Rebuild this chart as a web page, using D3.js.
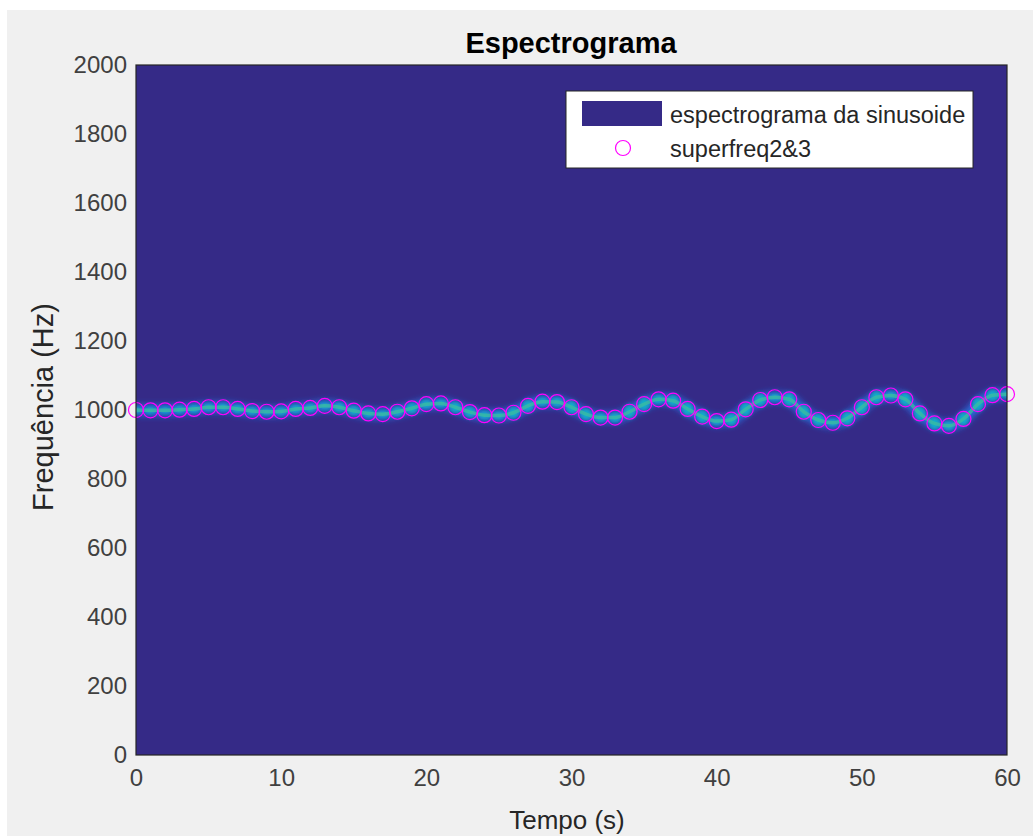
<!DOCTYPE html>
<html>
<head>
<meta charset="utf-8">
<script src="https://cdn.jsdelivr.net/npm/d3@7"></script>
<style>
html,body{margin:0;padding:0;background:#fff;}
svg{display:block;font-family:"Liberation Sans",Arial,sans-serif;}
</style>
</head>
<body>
<svg id="chart" width="1033" height="836"></svg>
<script>
// ---- data ----
const timeSeconds = [0,1,2,3,4,5,6,7,8,9,10,11,12,13,14,15,16,17,18,19,20,21,22,23,24,25,26,27,28,29,30,31,32,33,34,35,36,37,38,39,40,41,42,43,44,45,46,47,48,49,50,51,52,53,54,55,56,57,58,59,60];
const peakFreqHz = [1000,999,999,1001,1003,1008,1008,1003,997,995,996,1003,1006,1012,1008,998,990,988,995,1005,1017,1019,1008,994,985,984,992,1012,1024,1023,1008,988,978,978,995,1017,1031,1027,1003,981,968,972,1002,1029,1037,1031,995,971,963,976,1008,1037,1042,1031,990,961,954,974,1017,1043,1046];
const xTicks = [0,10,20,30,40,50,60];
const yTicks = [0,200,400,600,800,1000,1200,1400,1600,1800,2000];
const titleText = "Espectrograma";
const xLabel = "Tempo (s)";
const yLabel = "Frequência (Hz)";
const legendLabels = ["espectrograma da sinusoide","superfreq2&3"];

// ---- layout ----
const svg = d3.select("#chart");
const W = 1033, H = 836;
const plot = {left:136, top:65, right:1007, bottom:755};
const x = d3.scaleLinear().domain([0,60]).range([plot.left, plot.right]);
const y = d3.scaleLinear().domain([0,2000]).range([plot.bottom, plot.top]);

svg.append("rect").attr("x",7).attr("y",10).attr("width",W-7).attr("height",H-10).attr("fill","#f0f0f0");

const defs = svg.append("defs");
defs.append("clipPath").attr("id","clip").append("rect")
  .attr("x",plot.left).attr("y",plot.top).attr("width",plot.right-plot.left).attr("height",plot.bottom-plot.top);
const f1 = defs.append("filter").attr("id","blur1").attr("x","-20%").attr("y","-100%").attr("width","140%").attr("height","300%");
f1.append("feGaussianBlur").attr("stdDeviation",3);
const f2 = defs.append("filter").attr("id","blur2").attr("x","-50%").attr("y","-50%").attr("width","200%").attr("height","200%");
f2.append("feGaussianBlur").attr("stdDeviation",2);
const f3 = defs.append("filter").attr("id","blur3").attr("x","-50%").attr("y","-100%").attr("width","200%").attr("height","300%");
f3.append("feGaussianBlur").attr("stdDeviation",0.6);

// spectrogram background
svg.append("rect").attr("x",plot.left).attr("y",plot.top)
  .attr("width",plot.right-plot.left).attr("height",plot.bottom-plot.top)
  .attr("fill","#352a87");

const data = timeSeconds.map((t,i)=>({t, f:peakFreqHz[i]}));
const slopes = data.map((d,i)=>{
  const a = data[Math.max(0,i-1)], b = data[Math.min(data.length-1,i+1)];
  return Math.abs(b.f-a.f)/Math.max(1,(b.t-a.t));
});

const ridge = svg.append("g").attr("clip-path","url(#clip)");
const line = d3.line().x(d=>x(d.t)).y(d=>y(d.f)).curve(d3.curveMonotoneX);

// outer glow
ridge.append("path").datum(data).attr("d",line)
  .attr("fill","none").attr("stroke","#2476ea").attr("stroke-width",11)
  .attr("stroke-opacity",0.85).attr("filter","url(#blur1)");
// blobs (spread energy where frequency changes quickly)
ridge.selectAll("ellipse.blob").data(data).join("ellipse").attr("class","blob")
  .attr("cx",d=>x(d.t)).attr("cy",d=>y(d.f))
  .attr("rx",5.5)
  .attr("ry",(d,i)=>3 + Math.min(4, slopes[i]*0.2))
  .attr("fill","#12b2c8").attr("fill-opacity",0.95).attr("filter","url(#blur2)");
// teal core
ridge.append("path").datum(data).attr("d",line)
  .attr("fill","none").attr("stroke","#3cbba0").attr("stroke-width",3.5)
  .attr("stroke-opacity",0.75).attr("filter","url(#blur3)");
// yellow dashes where spectrum is sharp
ridge.selectAll("line.ydash").data(data).join("line").attr("class","ydash")
  .attr("x1",d=>x(d.t-0.42)).attr("x2",d=>x(d.t+0.42))
  .attr("y1",d=>y(d.f)).attr("y2",d=>y(d.f))
  .attr("stroke","#ecd838").attr("stroke-width",2.8)
  .attr("stroke-opacity",(d,i)=>Math.max(0, 1 - slopes[i]/30))
  .attr("filter","url(#blur3)");

// markers
svg.append("g").selectAll("circle").data(data).join("circle")
  .attr("cx",d=>x(d.t)).attr("cy",d=>y(d.f)).attr("r",7.5)
  .attr("fill","none").attr("stroke","#ff00ff").attr("stroke-width",1.2);

// frame
svg.append("rect").attr("x",plot.left).attr("y",plot.top)
  .attr("width",plot.right-plot.left).attr("height",plot.bottom-plot.top)
  .attr("fill","none").attr("stroke","#262626").attr("stroke-width",1.2);

// axes
const xAxis = d3.axisBottom(x).tickValues(xTicks).tickSize(0).tickPadding(14).tickFormat(d3.format("d"));
const gx = svg.append("g").attr("transform",`translate(0,${plot.bottom})`).call(xAxis);
gx.select(".domain").remove();
gx.selectAll("text").attr("font-size",24).attr("fill","#404040").attr("font-family","Liberation Sans, Arial, sans-serif");

const yAxis = d3.axisLeft(y).tickValues(yTicks).tickSize(0).tickPadding(9).tickFormat(d3.format("d"));
const gy = svg.append("g").attr("transform",`translate(${plot.left},0)`).call(yAxis);
gy.select(".domain").remove();
gy.selectAll("text").attr("font-size",24).attr("fill","#404040").attr("font-family","Liberation Sans, Arial, sans-serif");

// title & labels
svg.append("text").attr("x",571).attr("y",53).attr("text-anchor","middle")
  .attr("font-size",29).attr("font-weight","bold").attr("fill","#000").text(titleText);
svg.append("text").attr("x",567).attr("y",829).attr("text-anchor","middle")
  .attr("font-size",26).attr("fill","#262626").text(xLabel);
svg.append("text").attr("transform",`translate(53,407) rotate(-90)`)
  .attr("text-anchor","middle").attr("font-size",29).attr("fill","#262626").text(yLabel);

// legend
const lg = svg.append("g");
lg.append("rect").attr("x",566).attr("y",91).attr("width",407).attr("height",77)
  .attr("fill","#fff").attr("stroke","#262626").attr("stroke-width",1);
lg.append("rect").attr("x",582).attr("y",101).attr("width",80).attr("height",25).attr("fill","#352a87");
lg.append("circle").attr("cx",623).attr("cy",148).attr("r",7.5).attr("fill","none").attr("stroke","#ff00ff").attr("stroke-width",1.2);
lg.append("text").attr("x",670).attr("y",123).attr("font-size",23.5).attr("fill","#262626").text(legendLabels[0]);
lg.append("text").attr("x",670).attr("y",157).attr("font-size",23.5).attr("fill","#262626").text(legendLabels[1]);
</script>
</body>
</html>
